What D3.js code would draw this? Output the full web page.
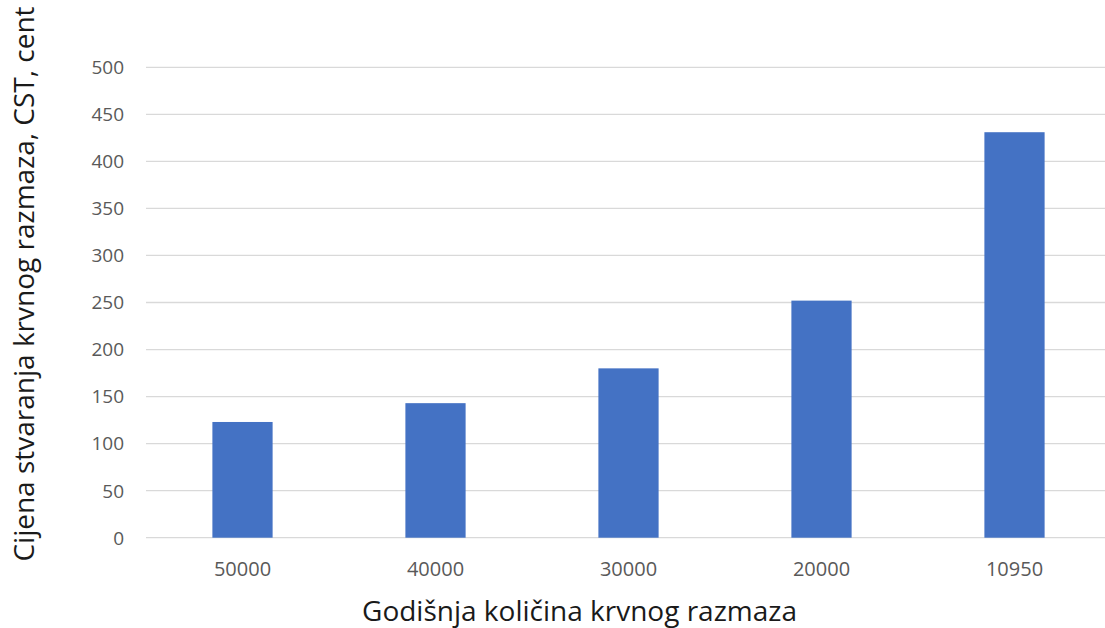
<!DOCTYPE html>
<html><head><meta charset="utf-8">
<script src="https://cdn.jsdelivr.net/npm/d3@7"></script>
<style>body{margin:0;background:#fff}svg{display:block}</style>
</head><body>
<svg id="c" width="1105" height="628"></svg>
<script>
const categories = ["50000", "40000", "30000", "20000", "10950"];
const values = [123, 143, 180, 252, 431];
const yTicks = [0, 50, 100, 150, 200, 250, 300, 350, 400, 450, 500];
const xTitle = "Godišnja količina krvnog razmaza";
const yTitle = "Cijena stvaranja krvnog razmaza, CST, cent";

const svg = d3.select("#c");
const font = "'Open Sans', 'Noto Sans', sans-serif";
const x = d3.scaleBand().domain(categories).range([146, 1111]).paddingInner(0.688).paddingOuter(0.344);
const y = d3.scaleLinear().domain([0, 500]).range([537.7, 67.3]);

svg.append("g").selectAll("line").data(yTicks).join("line")
  .attr("x1", 146).attr("x2", 1105)
  .attr("y1", d => y(d)).attr("y2", d => y(d))
  .attr("stroke", "#d9d9d9").attr("stroke-width", 1.3);

svg.append("g").selectAll("text").data(yTicks).join("text")
  .attr("x", 124).attr("y", d => y(d)).attr("dy", "0.36em")
  .attr("text-anchor", "end").attr("font-family", font).attr("font-size", 19)
  .attr("fill", "#595959").text(d => d);

svg.append("g").selectAll("rect").data(values).join("rect")
  .attr("x", (d, i) => x(categories[i])).attr("width", x.bandwidth())
  .attr("y", d => y(d)).attr("height", d => y(0) - y(d))
  .attr("fill", "#4472c4");

svg.append("g").selectAll("text").data(categories).join("text")
  .attr("x", d => x(d) + x.bandwidth() / 2).attr("y", 576)
  .attr("text-anchor", "middle").attr("font-family", font).attr("font-size", 20)
  .attr("fill", "#595959").text(d => d);

svg.append("text").attr("x", 579.5).attr("y", 621).attr("text-anchor", "middle")
  .attr("font-family", font).attr("font-size", 28).attr("fill", "#1a1a1a").text(xTitle);

svg.append("text").attr("transform", "translate(34,284) rotate(-90)").attr("text-anchor", "middle")
  .attr("font-family", font).attr("font-size", 28).attr("fill", "#1a1a1a").text(yTitle);
</script>
</body></html>
